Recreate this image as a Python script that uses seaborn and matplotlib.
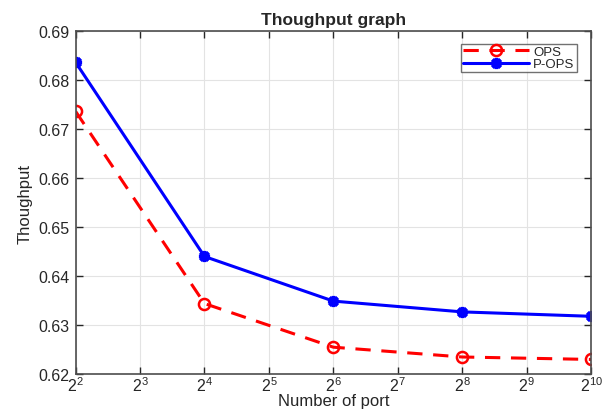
import math
import matplotlib
matplotlib.use("Agg")
import matplotlib.pyplot as plt
import seaborn as sns
import pandas as pd
from matplotlib.ticker import FixedLocator, FuncFormatter, NullLocator

ports = [4, 16, 64, 256, 1024]
ops = [0.6736, 0.6344, 0.6255, 0.6235, 0.6230]
pops = [0.6836, 0.6440, 0.6349, 0.6327, 0.6318]
xtick_exps = [2, 3, 4, 5, 6, 7, 8, 9, 10]
yticks = [0.62, 0.63, 0.64, 0.65, 0.66, 0.67, 0.68, 0.69]

sns.set_style("white")
plt.rcParams['font.family'] = ['Liberation Sans', 'DejaVu Sans']
plt.rcParams['mathtext.fontset'] = 'custom'
plt.rcParams['mathtext.rm'] = 'Liberation Sans'
plt.rcParams['mathtext.it'] = 'Liberation Sans'

fig = plt.figure(figsize=(6.05, 4.10), dpi=100)
ax = fig.add_axes([0.125, 0.085, 0.852, 0.837])

df = pd.DataFrame({"port": ports * 2, "val": ops + pops,
                   "series": ["OPS"] * len(ports) + ["P-OPS"] * len(ports)})

sns.lineplot(data=df[df.series == "OPS"], x="port", y="val", ax=ax, color="#ff0000",
             linewidth=2.2, marker="o", markersize=8,
             markerfacecolor="none", markeredgecolor="#ff0000", markeredgewidth=1.8,
             label="OPS")
ax.lines[-1].set_dashes((5, 3.5))
sns.lineplot(data=df[df.series == "P-OPS"], x="port", y="val", ax=ax, color="#0000ff",
             linewidth=2.2, marker=(8, 2, 0), markersize=8, markeredgecolor="#0000ff",
             markerfacecolor="#0000ff", markeredgewidth=2.5, label="P-OPS")

ax.set_xscale("log", base=2)
ax.set_xlim(4, 1024)
ax.set_ylim(0.62, 0.69)
ax.xaxis.set_major_locator(FixedLocator([2 ** e for e in xtick_exps]))
ax.xaxis.set_minor_locator(NullLocator())
ax.xaxis.set_major_formatter(FuncFormatter(lambda v, p: r"$\mathregular{2^{%d}}$" % round(math.log2(v))))
ax.set_yticks(yticks)
ax.set_yticklabels(["%.2f" % v for v in yticks])

ax.grid(True, color="#e3e3e3", linewidth=0.8)
ax.tick_params(direction="in", length=5, labelsize=11.5, colors="#262626", top=True, right=True,
               bottom=True, left=True, width=1.0)
ax.tick_params(axis="x", pad=1, labelsize=11.5)
ax.tick_params(axis="y", pad=4.5)
for s in ax.spines.values():
    s.set_color("#4d4d4d")
    s.set_linewidth(1.2)

ax.set_title("Thoughput graph", fontsize=12.5, fontweight="bold", pad=5)
ax.set_xlabel("Number of port", fontsize=12, labelpad=-1)
ax.set_ylabel("Thoughput", fontsize=12, labelpad=4)

leg = ax.legend(loc="upper right", bbox_to_anchor=(0.972, 0.963), fontsize=9.5,
                frameon=True, fancybox=False, edgecolor="#4d4d4d", handlelength=5,
                borderpad=0.15, labelspacing=0.0, handletextpad=0.3, borderaxespad=0)
leg.get_frame().set_linewidth(1.0)

fig.savefig("out.png", dpi=100)
